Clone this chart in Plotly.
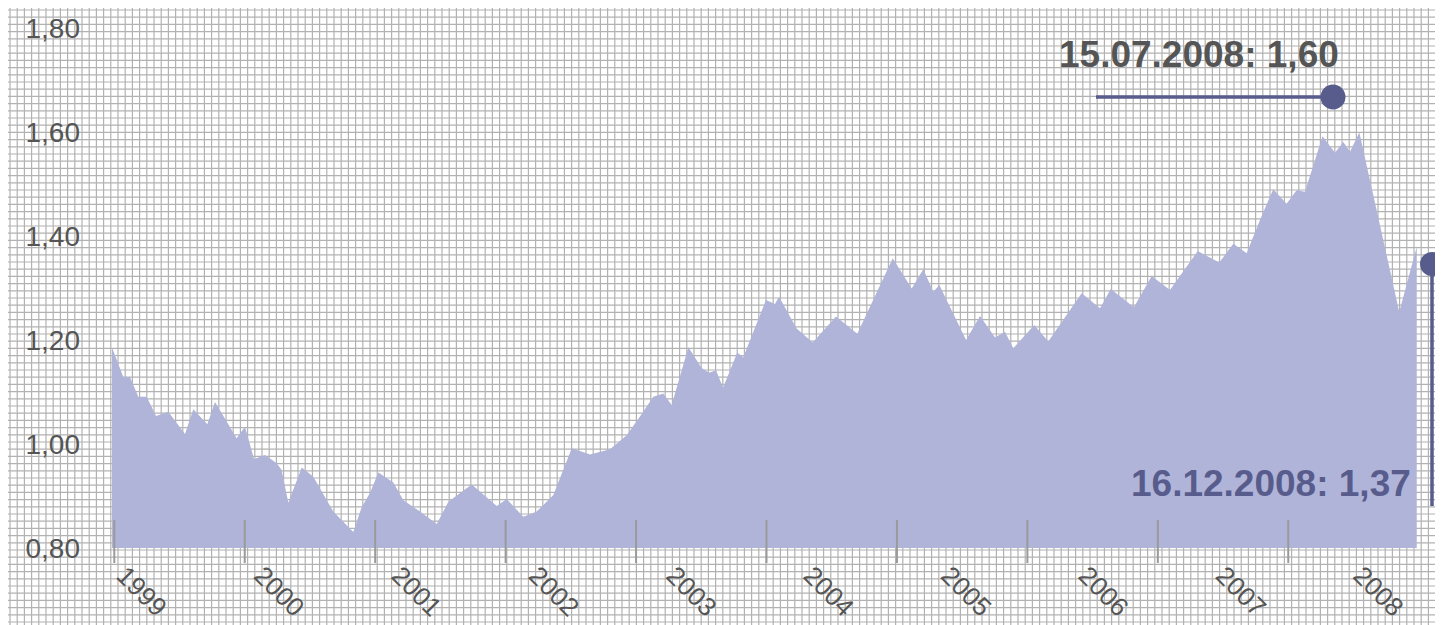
import plotly.graph_objects as go

# ---------------- data ----------------
years = [1998.980, 1999.069, 1999.120, 1999.184, 1999.248, 1999.320, 1999.414, 1999.542,
         1999.606, 1999.713, 1999.772, 1999.938, 2000.002, 2000.071, 2000.155, 2000.245,
         2000.283, 2000.334, 2000.437, 2000.526, 2000.679, 2000.832, 2000.897, 2000.960,
         2001.024, 2001.139, 2001.216, 2001.344, 2001.472, 2001.561, 2001.740, 2001.932,
         2002.008, 2002.136, 2002.238, 2002.366, 2002.507, 2002.647, 2002.800, 2002.928,
         2003.030, 2003.132, 2003.209, 2003.273, 2003.401, 2003.503, 2003.559, 2003.613,
         2003.667, 2003.776, 2003.822, 2003.996, 2004.065, 2004.096, 2004.231, 2004.354,
         2004.533, 2004.696, 2004.968, 2005.113, 2005.202, 2005.279, 2005.325, 2005.530,
         2005.637, 2005.752, 2005.828, 2005.892, 2006.053, 2006.160, 2006.416, 2006.557,
         2006.639, 2006.817, 2006.953, 2007.093, 2007.306, 2007.471, 2007.579, 2007.681,
         2007.783, 2007.885, 2007.987, 2008.064, 2008.128, 2008.263, 2008.358, 2008.422,
         2008.473, 2008.545, 2008.851, 2008.985]
rates = [1.187, 1.129, 1.129, 1.091, 1.091, 1.054, 1.062, 1.019,
         1.067, 1.038, 1.081, 1.011, 1.033, 0.971, 0.979, 0.963,
         0.950, 0.887, 0.955, 0.937, 0.870, 0.831, 0.879, 0.906,
         0.945, 0.926, 0.892, 0.870, 0.846, 0.889, 0.922, 0.881,
         0.894, 0.860, 0.870, 0.902, 0.992, 0.980, 0.990, 1.017,
         1.053, 1.091, 1.097, 1.075, 1.186, 1.146, 1.137, 1.142,
         1.108, 1.176, 1.167, 1.277, 1.269, 1.283, 1.222, 1.195,
         1.245, 1.212, 1.357, 1.299, 1.336, 1.293, 1.306, 1.200,
         1.246, 1.205, 1.216, 1.184, 1.229, 1.197, 1.290, 1.261,
         1.298, 1.263, 1.323, 1.296, 1.371, 1.349, 1.385, 1.367,
         1.431, 1.490, 1.462, 1.488, 1.485, 1.592, 1.560, 1.581,
         1.562, 1.599, 1.254, 1.379]

tick_years = [1999, 2000, 2001, 2002, 2003, 2004, 2005, 2006, 2007, 2008]
tick_labels = [str(y) for y in tick_years]
y_ticks = [0.8, 1.0, 1.2, 1.4, 1.6, 1.8]

label_high = "15.07.2008: 1,60"
label_last = "16.12.2008: 1,37"

# ---------------- styling / layout ----------------
W, H = 1443, 625
OFF = 8                      # page body margin in the browser
AREA = "#b0b4d9"
ACCENT = "#585c8c"
TEXT = "#555555"
GRID = "#b2b2b2"

X0, X1 = 112, 1420           # plot area in page pixels
YB, YT = 548, 28
PX_PER_YEAR = 130.44
X_1999 = 114.3
x_range = [1999 + (X0 - X_1999) / PX_PER_YEAR, 1999 + (X1 - X_1999) / PX_PER_YEAR]

# year labels are spaced a little wider than the year ticks in the original
LABEL_SHIFT = 10 / PX_PER_YEAR
LABEL_DRIFT = (137.4 - PX_PER_YEAR) / PX_PER_YEAR
label_pos = [ty + LABEL_SHIFT + i * LABEL_DRIFT for i, ty in enumerate(tick_years)]


def px(x):
    return (x - OFF) / W


def py(y):
    return 1 - (y - OFF) / H


fig = go.Figure()
fig.add_trace(go.Scatter(
    x=years, y=rates, mode="lines", fill="tozeroy",
    fillcolor=AREA, line=dict(width=0, color=AREA), hoverinfo="skip",
))

shapes = []
# graph-paper background
step = 7.2
vpath, hpath = [], []
x = OFF + 2.0
while x < W + OFF:
    vpath.append(f"M{px(x):.5f},0 L{px(x):.5f},1")
    x += step
y = OFF + 2.0
while y < H + OFF:
    hpath.append(f"M0,{py(y):.5f} L1,{py(y):.5f}")
    y += step
for p in (vpath, hpath):
    shapes.append(dict(type="path", xref="paper", yref="paper", path=" ".join(p),
                       line=dict(color=GRID, width=1.2), layer="below"))

# year tick marks crossing the baseline
for ty in tick_years:
    shapes.append(dict(type="line", xref="x", yref="paper", x0=ty, x1=ty,
                       y0=py(563), y1=py(520), line=dict(color="#9a9a9a", width=2),
                       layer="above"))

# maximum marker: horizontal line ending in a dot
shapes.append(dict(type="line", xref="paper", yref="paper", x0=px(1096), x1=px(1333),
                   y0=py(97), y1=py(97), line=dict(color=ACCENT, width=3.5)))
shapes.append(dict(type="circle", xref="paper", yref="paper", x0=px(1333 - 12.5),
                   x1=px(1333 + 12.5), y0=py(97 + 12.5), y1=py(97 - 12.5),
                   fillcolor=ACCENT, line=dict(width=0)))
# last value marker: vertical line topped by a dot
shapes.append(dict(type="line", xref="paper", yref="paper", x0=px(1432), x1=px(1432),
                   y0=py(264), y1=py(506), line=dict(color=ACCENT, width=3.5)))
shapes.append(dict(type="circle", xref="paper", yref="paper", x0=px(1432 - 12),
                   x1=px(1432 + 12), y0=py(264 + 12), y1=py(264 - 12),
                   fillcolor=ACCENT, line=dict(width=0)))

BOLD = "Liberation Sans, Arial, sans-serif"
annotations = [
    dict(text=f"<b>{label_high}</b>", xref="paper", yref="paper", x=px(1341), y=py(54),
         xanchor="right", yanchor="middle", showarrow=False,
         font=dict(family=BOLD, size=37, color=TEXT)),
    dict(text=f"<b>{label_last}</b>", xref="paper", yref="paper", x=px(1413), y=py(483),
         xanchor="right", yanchor="middle", showarrow=False,
         font=dict(family=BOLD, size=37, color=ACCENT)),
]

fig.update_layout(
    width=W, height=H,
    margin=dict(l=0, r=0, t=0, b=0, autoexpand=False, pad=0),
    paper_bgcolor="white", plot_bgcolor="rgba(0,0,0,0)",
    showlegend=False,
    separators=",.",
    shapes=shapes, annotations=annotations,
    xaxis=dict(domain=[px(X0), px(X1)], range=x_range, tickmode="array",
               tickvals=label_pos, ticktext=tick_labels, tickangle=45,
               showgrid=False, zeroline=False, showline=False, ticks="",
               ticklabelstandoff=6, automargin=False,
               tickfont=dict(family="Liberation Sans, Arial, sans-serif", size=26, color=TEXT)),
    yaxis=dict(domain=[py(YB), py(YT)], range=[0.8, 1.8], tickmode="array",
               tickvals=y_ticks, tickformat=".2f", showgrid=False, zeroline=False,
               showline=False, ticks="", ticklabelstandoff=31, automargin=False,
               tickfont=dict(family="Liberation Sans, Arial, sans-serif", size=28, color=TEXT)),
)

fig.write_html("out.html")
